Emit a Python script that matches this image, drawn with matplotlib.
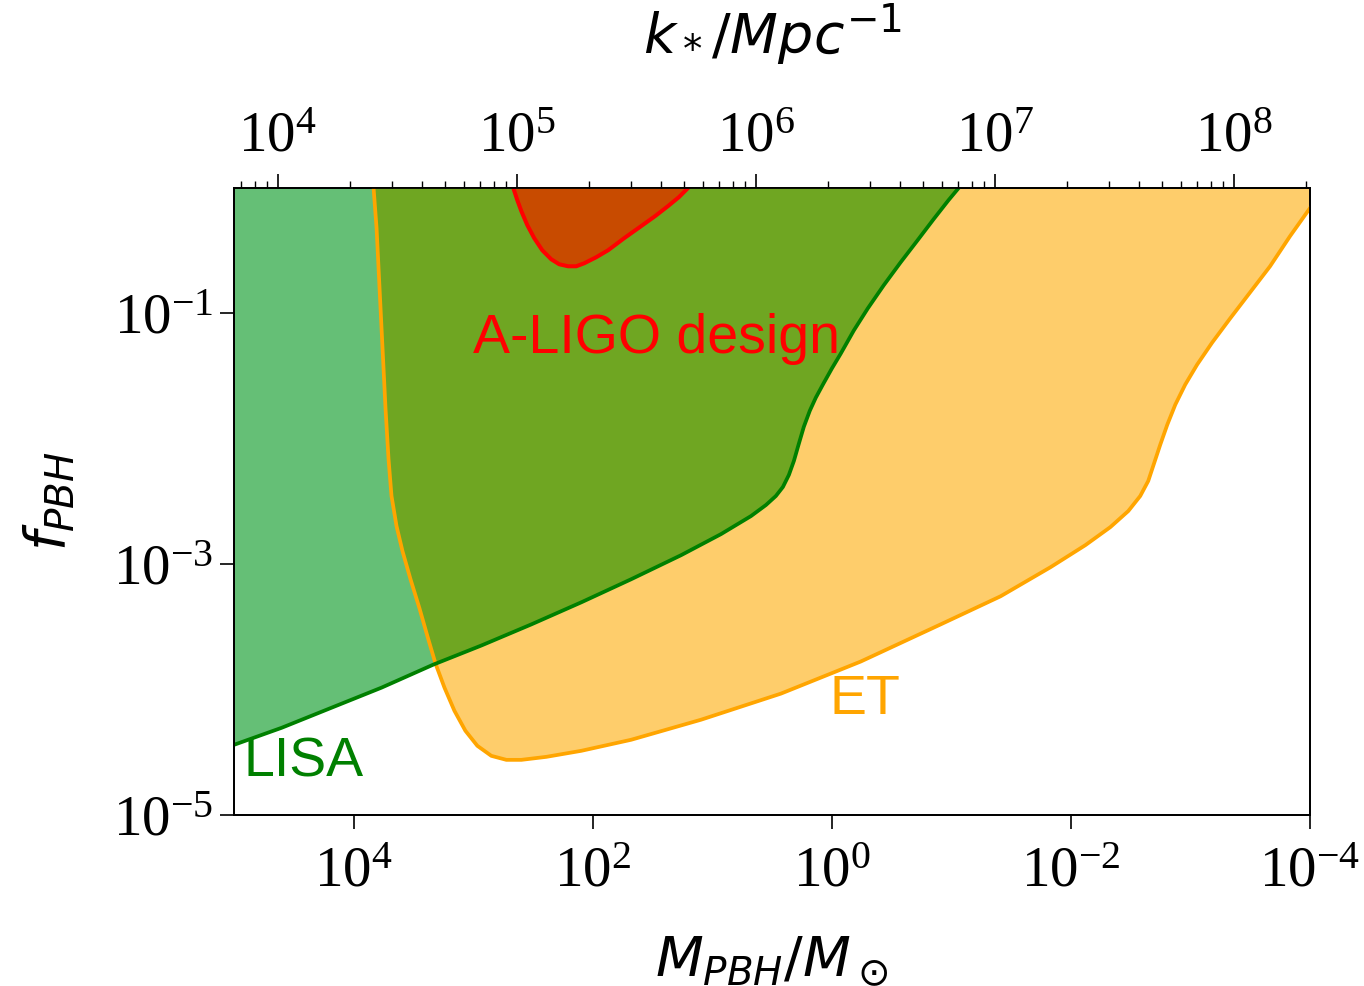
import numpy as np
import matplotlib
matplotlib.use("Agg")
import matplotlib.pyplot as plt

plt.rcParams['font.family'] = ['Liberation Serif', 'DejaVu Serif']
plt.rcParams['mathtext.fontset'] = 'stix'

# curves: log10(M_PBH / M_sun), log10(f_PBH)
lisa_logm = [5.0, 4.601, 4.184, 3.766, 3.332, 2.931, 2.514, 2.096, 1.679, 1.261,
             0.927, 0.676, 0.551, 0.468, 0.409, 0.359, 0.317, 0.276, 0.234, 0.184,
             0.134, 0.075, 0.0, -0.075, -0.184, -0.301, -0.434, -0.576, -0.718,
             -0.852, -0.977, -1.061]
lisa_logf = [-4.44, -4.304, -4.144, -3.984, -3.80, -3.648, -3.48, -3.304, -3.12, -2.928,
             -2.76, -2.616, -2.528, -2.456, -2.384, -2.288, -2.176, -2.04, -1.904, -1.776,
             -1.672, -1.568, -1.44, -1.32, -1.136, -0.96, -0.776, -0.592, -0.416,
             -0.248, -0.096, 0.0]

et_logm = [3.833, 3.808, 3.783, 3.758, 3.733, 3.708, 3.683, 3.641, 3.591, 3.524,
           3.449, 3.382, 3.315, 3.240, 3.157, 3.065, 2.965, 2.848, 2.722, 2.597,
           2.388, 2.096, 1.679, 1.094, 0.426, -0.242, -0.910, -1.411, -1.829,
           -2.121, -2.330, -2.480, -2.580, -2.647, -2.697, -2.747, -2.806, -2.873,
           -2.956, -3.056, -3.182, -3.332, -3.499, -3.666, -3.833, -4.0]
et_logf = [0.0, -0.32, -0.80, -1.28, -1.76, -2.16, -2.456, -2.696, -2.896, -3.12,
           -3.352, -3.576, -3.792, -3.984, -4.168, -4.328, -4.448, -4.528, -4.56, -4.56,
           -4.536, -4.488, -4.40, -4.24, -4.032, -3.776, -3.48, -3.256, -3.024,
           -2.848, -2.704, -2.576, -2.456, -2.336, -2.192, -2.048, -1.888, -1.728,
           -1.568, -1.408, -1.232, -1.04, -0.832, -0.624, -0.384, -0.16]

ligo_logm = [2.664, 2.631, 2.597, 2.547, 2.489, 2.422, 2.347, 2.280, 2.205, 2.138,
             2.071, 1.971, 1.871, 1.737, 1.595, 1.478, 1.370, 1.278, 1.203]
ligo_logf = [0.0, -0.096, -0.184, -0.296, -0.40, -0.496, -0.568, -0.608, -0.624, -0.624,
             -0.60, -0.552, -0.496, -0.40, -0.304, -0.224, -0.144, -0.072, 0.0]

# k_* = K0 * M^(-1/2)
log_k0 = 6.317
m_lo, m_hi = 1e5, 1e-4

def to_k(m):
    return 10**log_k0 * m**-0.5

fig = plt.figure(figsize=(13.64, 9.86), dpi=100)
ax = fig.add_axes([0.1716, 0.1734, 0.9604 - 0.1716, 0.8093 - 0.1734])

def closed(logm, logf):
    m = 10**np.array(logm)
    f = 10**np.array(logf)
    # close along the top of the plot (f = 1)
    return m, f, np.concatenate([m, [m[-1], m[0]]]), np.concatenate([f, [1.0, 1.0]])

et_m, et_f, et_pm, et_pf = closed(et_logm, et_logf)
li_m, li_f, li_pm, li_pf = closed(lisa_logm, lisa_logf)
lg_m, lg_f, lg_pm, lg_pf = closed(ligo_logm, ligo_logf)

et_patch = ax.fill(et_pm, et_pf, color='#fecd6b', lw=0, zorder=1)[0]
ax.fill(li_pm, li_pf, color='#65bf76', lw=0, zorder=2)
both = ax.fill(li_pm, li_pf, color='#6fa622', lw=0, zorder=3)[0]
both.set_clip_path(et_patch)
ax.fill(lg_pm, lg_pf, color='#c84b00', lw=0, zorder=4)

ax.plot(et_m, et_f, color='orange', lw=2.7, zorder=11)
ax.plot(li_m, li_f, color='green', lw=2.7, zorder=12)
ax.plot(lg_m, lg_f, color='red', lw=2.9, zorder=13)

ax.set_xscale('log')
ax.set_yscale('log')
ax.set_xlim(m_lo, m_hi)
ax.set_ylim(1e-5, 1)

ax.set_xticks([1e4, 1e2, 1e0, 1e-2, 1e-4])
ax.set_yticks([1e-1, 1e-3, 1e-5])
ax.minorticks_off()
ax.tick_params(axis='x', which='major', direction='out', length=10, width=1.2,
               labelsize=41, pad=13)
ax.tick_params(axis='y', which='major', direction='out', length=10, width=1.2,
               labelsize=41, pad=5)

ax.set_xlabel(r'$M_{PBH}/M_\odot$', fontsize=40, math_fontfamily='dejavusans', labelpad=25)
ax.set_ylabel(r'$f_{PBH}$', fontsize=40, math_fontfamily='dejavusans', labelpad=26)

top = ax.twiny()
top.set_xscale('log')
top.set_xlim(to_k(m_lo), to_k(m_hi))
top.tick_params(axis='x', which='major', direction='out', length=10, width=1.2,
                labelsize=41, pad=8)
top.tick_params(axis='x', which='minor', direction='out', length=5, width=1.0)
top.set_xlabel(r'$k_*/Mpc^{-1}$', fontsize=40, math_fontfamily='dejavusans', labelpad=42)

for a in (ax, top):
    for s in a.spines.values():
        s.set_linewidth(1.3)

ax.text(10**1.47, 10**-1.2, 'A-LIGO design', color='red', fontsize=40,
        family='Liberation Sans', ha='center', va='center', zorder=30)
ax.text(10**-0.28, 10**-4.08, 'ET', color='orange', fontsize=40,
        family='Liberation Sans', ha='center', va='center', zorder=30)
ax.text(10**4.92, 10**-4.58, 'LISA', color='green', fontsize=40,
        family='Liberation Sans', ha='left', va='center', zorder=30)

fig.savefig('out.png', dpi=100)
